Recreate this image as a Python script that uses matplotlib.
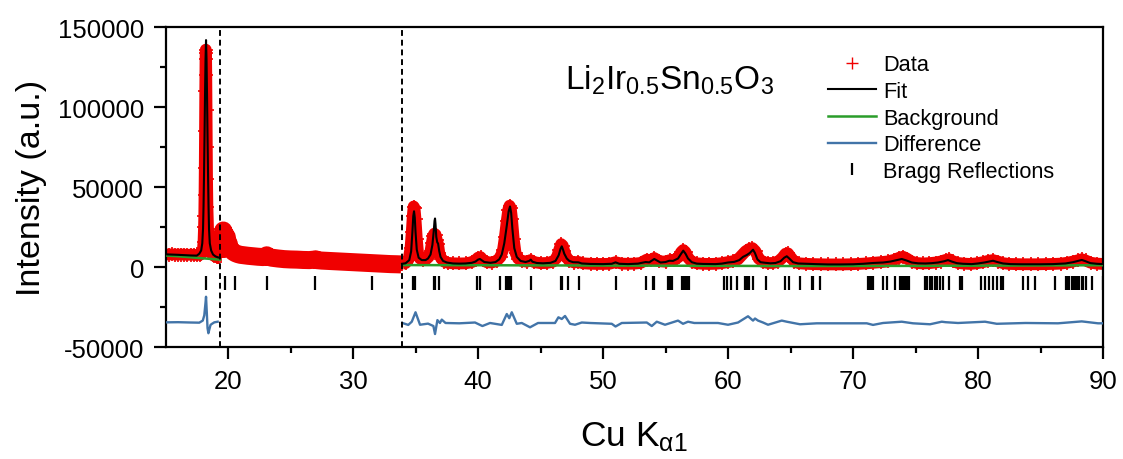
"""Rietveld refinement plot for Li2Ir0.5Sn0.5O3 (Cu K-alpha1)."""

import numpy as np
import matplotlib
matplotlib.use('Agg')
import matplotlib.pyplot as plt
from matplotlib.lines import Line2D
from matplotlib.ticker import FixedLocator

# --- observed data, region 1 (15 - 19.4 deg) ---
obs1X = [15.0, 15.25, 15.5, 15.75, 16.0, 16.25, 16.5, 16.75, 17.0, 17.25, 17.5,
         17.75, 17.85, 17.95, 18.0, 18.04, 18.08, 18.1, 18.12, 18.14, 18.16,
         18.18, 18.2, 18.22, 18.24, 18.26, 18.28, 18.3, 18.32, 18.35, 18.4,
         18.45, 18.5, 18.6, 18.7, 18.8, 18.9, 19.0, 19.1, 19.2, 19.3]
obs1Y = [8100, 8000, 8100, 8000, 7900, 8000, 7900, 7800, 7900, 7800, 7700,
         7800, 8200, 9500, 12000, 16000, 25000, 32000, 45000, 62000, 85000,
         110000, 130000, 136000, 134000, 120000, 98000, 75000, 55000, 38000, 24000,
         16000, 12000, 9500, 8300, 7600, 7100, 6800, 6500, 6300, 6200]

# --- observed data, region 2 (19.4 - 33.9 deg, not refined) ---
obs2X = [19.4, 19.5, 19.56, 19.62, 19.68, 19.74, 19.8, 19.9, 19.96, 20.05,
         20.15, 20.3, 20.45, 20.6, 20.8, 21.0, 21.3, 21.6, 22.0, 22.4, 22.8,
         23.0, 23.1, 23.2, 23.5, 24.0, 24.5, 25.0, 25.5, 26.0, 26.5, 26.9,
         27.0, 27.1, 27.5, 28.0, 28.5, 29.0, 29.5, 30.0, 30.5, 31.0, 31.5,
         32.0, 32.5, 33.0, 33.5, 33.85]
obs2Y = [7000, 14000, 20000, 23000, 18000, 21000, 16000, 19000, 14000, 15000,
         11500, 10500, 9500, 8800, 8200, 7800, 7500, 7200, 6900, 6600, 6400,
         6900, 7500, 6600, 6000, 5500, 5100, 4900, 4800, 4600, 4500, 4800,
         5000, 4500, 4200, 4000, 3800, 3600, 3400, 3200, 3000, 2800, 2600,
         2400, 2200, 2000, 1900, 1800]

# --- observed data, region 3 (33.9 - 90 deg) ---
obs3X = [33.95, 34.2, 34.45, 34.6, 34.7, 34.78, 34.85, 34.92, 35.0, 35.1, 35.2,
         35.35, 35.6, 35.85, 36.05, 36.2, 36.3, 36.4, 36.5, 36.6, 36.7, 36.8,
         36.9, 37.05, 37.3, 37.6, 38.0, 38.5, 39.0, 39.5, 39.8, 40.0, 40.2,
         40.4, 40.7, 41.1, 41.5, 41.8, 42.0, 42.15, 42.3, 42.42, 42.52, 42.62,
         42.72, 42.85, 43.0, 43.2, 43.5, 43.9, 44.2, 44.5, 45.0, 45.5, 46.0,
         46.3, 46.5, 46.65, 46.78, 46.9, 47.05, 47.3, 47.7, 48.0, 48.4, 49.0,
         49.5, 50.0, 50.5, 51.0, 51.5, 52.0, 52.5, 53.0, 53.5, 53.8, 54.1,
         54.5, 55.0, 55.35, 55.7, 56.05, 56.25, 56.42, 56.6, 56.8, 57.1, 57.5,
         58.0, 58.5, 59.0, 59.5, 60.0, 60.4, 60.8, 61.1, 61.4, 61.7, 61.95,
         62.2, 62.45, 62.8, 63.2, 63.6, 64.0, 64.35, 64.6, 64.8, 65.0, 65.3,
         65.7, 66.2, 66.8, 67.4, 68.0, 68.6, 69.2, 69.8, 70.4, 71.0, 71.6,
         72.2, 72.8, 73.3, 73.7, 74.0, 74.3, 74.7, 75.1, 75.6, 76.1, 76.6,
         77.0, 77.4, 77.7, 78.0, 78.4, 78.9, 79.4, 79.9, 80.4, 80.8, 81.2,
         81.6, 82.0, 82.5, 83.0, 83.6, 84.2, 84.8, 85.4, 86.0, 86.6, 87.1,
         87.6, 88.0, 88.3, 88.6, 89.0, 89.5, 90.0]
obs3Y = [2200, 2600, 5000, 12000, 22000, 32000, 38000, 37000, 30000, 18000, 9000,
         5500, 4500, 5000, 6500, 10000, 15000, 19500, 21000, 20500, 17000, 14500,
         9000, 5500, 3500, 2800, 2500, 2400, 2500, 3200, 4500, 6000, 6400,
         4500, 3200, 3000, 4000, 6500, 11000, 19000, 29000, 36000, 38500, 37000,
         30000, 18000, 9000, 5500, 4000, 3500, 4500, 3200, 2600, 2700, 3500,
         6000, 11000, 14500, 13500, 10000, 6500, 4000, 3000, 3400, 2500, 2200,
         2100, 2100, 2200, 3200, 2300, 2200, 2300, 2700, 4800, 4500, 5800,
         3800, 3500, 4500, 4500, 6500, 9500, 10800, 9500, 6000, 3500, 2500,
         2200, 2100, 2200, 2600, 3300, 3800, 5000, 7500, 10000, 11500, 12000,
         10000, 5500, 3300, 2700, 2700, 3500, 6000, 8500, 8700, 6500, 3500,
         2500, 2200, 2000, 1900, 1800, 1800, 1800, 1900, 2100, 2400, 2800,
         3200, 3700, 4700, 6000, 6600, 5500, 3500, 2700, 2400, 2600, 3000,
         3600, 4600, 5000, 3800, 2700, 2300, 2100, 2500, 3200, 4000, 4500,
         3600, 2600, 2100, 2000, 1900, 1900, 1900, 2000, 2100, 2300, 2800,
         3600, 4400, 5000, 4300, 2900, 2300, 2100]

# --- calculated profile (fit) ---
fit1X = [15.0, 16.0, 17.0, 17.5, 17.7, 17.85, 17.94, 18.0, 18.04, 18.08, 18.12,
         18.16, 18.2, 18.24, 18.28, 18.32, 18.36, 18.4, 18.44, 18.48, 18.54,
         18.65, 18.8, 19.0, 19.2, 19.36]
fit1Y = [8100, 7800, 7400, 7300, 8500, 10500, 15000, 24000, 38000, 58000, 82000,
         108000, 130000, 142000, 130000, 108000, 82000, 58000, 38000, 24000, 15000,
         10500, 8000, 6800, 6200, 6000]

fit3X = [33.92, 34.2, 34.5, 34.65, 34.75, 34.82, 34.88, 34.94, 35.0, 35.1, 35.25,
         35.5, 35.8, 36.0, 36.2, 36.35, 36.45, 36.52, 36.56, 36.6, 36.66, 36.74,
         36.8, 36.9, 37.0, 37.2, 37.5, 38.0, 38.5, 39.0, 39.5, 39.8, 40.0,
         40.15, 40.3, 40.5, 41.0, 41.4, 41.7, 41.9, 42.1, 42.3, 42.45, 42.56,
         42.65, 42.75, 42.9, 43.1, 43.4, 43.8, 44.1, 44.22, 44.35, 44.7, 45.2,
         45.8, 46.2, 46.45, 46.6, 46.7, 46.8, 46.9, 47.0, 47.1, 47.3, 47.6,
         48.03, 48.3, 49.0, 50.0, 50.7, 51.0, 51.3, 52.0, 52.8, 53.4, 53.7,
         54.1, 54.3, 54.6, 55.0, 55.3, 55.6, 56.0, 56.25, 56.42, 56.6, 56.8,
         57.1, 57.5, 58.0, 59.0, 59.5, 60.0, 60.5, 60.9, 61.2, 61.5, 61.75,
         62.0, 62.15, 62.35, 62.6, 63.0, 63.4, 63.8, 64.2, 64.5, 64.7, 64.9,
         65.2, 65.6, 66.2, 67.0, 68.0, 69.0, 70.0, 70.8, 71.6, 72.4, 73.0,
         73.5, 73.9, 74.3, 74.7, 75.2, 75.8, 76.3, 76.8, 77.3, 77.6, 77.9,
         78.3, 78.8, 79.5, 80.0, 80.5, 81.0, 81.2, 81.5, 82.0, 82.6, 83.5,
         85.0, 86.0, 87.0, 87.6, 88.0, 88.3, 88.6, 89.0, 89.5, 90.0]
fit3Y = [2200, 2500, 4500, 10000, 22000, 32000, 35000, 31000, 22000, 11000, 6000,
         4500, 4500, 5500, 8000, 14000, 22000, 29000, 30500, 27000, 19000, 15500,
         15000, 10000, 6500, 4000, 3000, 2400, 2300, 2400, 2800, 3600, 4800,
         5200, 4400, 3300, 2800, 3300, 5000, 8000, 15000, 26000, 35000, 38000,
         34000, 24000, 12000, 6500, 4000, 3300, 4000, 4800, 3500, 2700, 2500,
         2800, 4000, 7500, 11500, 13100, 11000, 8500, 7000, 5500, 4000, 3200,
         3100, 2400, 2100, 2000, 2200, 3100, 2200, 2000, 2300, 3300, 3100,
         5200, 4300, 3000, 3300, 4100, 4000, 5500, 8500, 10400, 8500, 5500,
         3200, 2300, 2100, 2000, 2300, 3000, 3400, 4500, 6500, 7700, 9000,
         11000, 9000, 5000, 3200, 2800, 2500, 2700, 3800, 6000, 6900, 5500,
         3200, 2400, 2200, 2000, 1800, 1800, 1900, 2200, 2700, 3000, 3600,
         4500, 5200, 4200, 3000, 2500, 2400, 2600, 3000, 3800, 4500, 3600,
         2600, 2200, 2000, 2400, 3000, 3800, 4100, 3400, 2400, 2000, 1900,
         1900, 2000, 2400, 3200, 4000, 4600, 3800, 2600, 2200, 2000]

# --- background ---
bg1X = [15.0, 16.0, 17.0, 18.0, 19.0, 19.36]
bg1Y = [7400, 6900, 6300, 5600, 5000, 4800]
bg3X = [33.92, 45.0, 55.0, 65.0, 75.0, 90.0]
bg3Y = [1400, 1200, 1000, 800, 900, 1300]

# --- difference curve (offset) ---
diff1X = [15.0, 16.0, 17.0, 17.7, 17.98, 18.1, 18.2, 18.24, 18.3, 18.36, 18.43,
          18.5, 18.6, 18.7, 18.9, 19.17]
diff1Y = [-34400, -34300, -34500, -34600, -33300, -30000, -22000, -18400, -28000,
          -38000, -41200, -39000, -36000, -35400, -34400, -34000]
diff3X = [33.95, 34.42, 34.7, 35.0, 35.36, 36.0, 36.43, 36.56, 36.75, 36.95, 37.1,
          37.4, 38.5, 39.76, 40.35, 40.96, 41.9, 42.3, 42.5, 42.7, 43.1, 43.5,
          44.16, 44.8, 46.16, 46.43, 46.7, 46.96, 47.36, 47.76, 48.3, 48.96,
          50.7, 51.0, 51.5, 53.5, 53.9, 54.3, 54.96, 56.0, 56.4, 56.8, 57.3,
          59.2, 60.0, 60.8, 61.6, 62.0, 62.16, 62.4, 62.8, 63.2, 64.3, 64.7,
          65.76, 67.1, 71.1, 71.6, 72.4, 73.9, 74.8, 76.16, 77.1, 77.4, 78.4,
          80.56, 81.5, 83.8, 86.4, 88.3, 89.6, 90.0]
diff3Y = [-34800, -36000, -34000, -28100, -35900, -35200, -36700, -41700, -33000,
          -34800, -32700, -34800, -35000, -34500, -36700, -34800, -36000, -29200,
          -31800, -28100, -35300, -34800, -37500, -34800, -34800, -31250, -32300,
          -30400, -35300, -35900, -34500, -34800, -35300, -37000, -34800, -34500,
          -36700, -34000, -35900, -33300, -35300, -34000, -34800, -34800, -35900,
          -34500, -30600, -33300, -32000, -33300, -34500, -35900, -33300, -34000,
          -35600, -35000, -35000, -36000, -34800, -34000, -35000, -35600, -34000,
          -34300, -34800, -34000, -35300, -34800, -35000, -33800, -35000, -35000]

# --- Bragg reflection positions ---
braggPos = [18.21, 19.72, 20.55, 23.09, 26.95, 31.49, 34.83, 34.96, 36.45, 36.58,
            36.88, 39.95, 40.12, 41.76, 42.23, 42.37, 42.5, 42.62, 44.25, 46.6,
            46.7, 47.2, 48.05, 51.02, 53.42, 54.03, 54.1, 55.2, 55.32, 55.52,
            56.32, 56.46, 56.6, 56.74, 56.9, 59.7, 59.9, 60.26, 60.7, 61.38,
            61.5, 61.64, 62.02, 63.04, 64.58, 64.84, 65.72, 66.7, 66.82, 67.36,
            71.22, 71.3, 71.36, 71.5, 71.62, 72.42, 72.72, 73.36, 73.72, 73.8,
            73.94, 74.06, 74.14, 74.3, 74.48, 75.76, 75.9, 76.16, 76.3, 76.56,
            76.72, 76.96, 77.22, 77.68, 78.56, 78.7, 80.26, 80.56, 80.88, 81.22,
            81.5, 81.84, 82.02, 83.6, 84.02, 84.52, 86.12, 87.04, 87.18, 87.3,
            87.5, 87.7, 87.78, 87.94, 88.1, 88.3, 88.42, 88.62, 89.1, 89.96]

excluded = [19.38, 33.9]  # limits of the excluded region
braggTick = (-5200, -14000)

plt.rcParams['font.family'] = 'Liberation Sans'
plt.rcParams['mathtext.fontset'] = 'custom'
plt.rcParams['mathtext.rm'] = 'Liberation Sans'
plt.rcParams['mathtext.it'] = 'Liberation Sans:italic'
plt.rcParams['mathtext.bf'] = 'Liberation Sans:bold'
plt.rcParams['axes.unicode_minus'] = False

red, green, blue = '#f00000', '#2a9d2a', '#4274a8'

fig = plt.figure(figsize=(11.23, 4.6), dpi=100)
ax = fig.add_axes([0.1474, 0.2428, 0.8348, 0.6957])

# the dense '+' markers of the scan merge into a solid band: draw the
# band as a wide stroke through the observed points, markers on top
mk = dict(ls='none', marker='+', ms=10, mew=1.2, color=red, zorder=2)
for x, y, w in ((obs1X, obs1Y, 8.5), (obs2X, obs2Y, 13), (obs3X, obs3Y, 8.5)):
    ax.plot(x, y, color=red, lw=w, solid_joinstyle='round',
            solid_capstyle='butt', zorder=2)
    ax.plot(x, y, **mk)

for x, y in ((fit1X, fit1Y), (fit3X, fit3Y)):
    ax.plot(x, y, color='black', lw=1.5, zorder=4)
for x, y in ((bg1X, bg1Y), (bg3X, bg3Y)):
    ax.plot(x, y, color=green, lw=1.8, zorder=3)
for x, y in ((diff1X, diff1Y), (diff3X, diff3Y)):
    ax.plot(x, y, color=blue, lw=1.7, zorder=3)

ax.vlines(braggPos, braggTick[1], braggTick[0], color='black', lw=1.6, zorder=3)

for xv in excluded:
    ax.axvline(xv, color='black', lw=1.4, ls=(0, (3, 2)), zorder=5)

ax.set_xlim(15, 90)
ax.set_ylim(-50000, 150000)
ax.xaxis.set_major_locator(FixedLocator(range(20, 91, 10)))
ax.xaxis.set_minor_locator(FixedLocator(range(25, 90, 10)))
ax.yaxis.set_major_locator(FixedLocator(range(-50000, 150001, 50000)))
ax.yaxis.set_minor_locator(FixedLocator(range(-25000, 150000, 50000)))
ax.tick_params(which='both', direction='out', width=1.6, labelsize=18.5,
               top=False, right=False)
ax.tick_params(which='major', length=8.5, pad=7)
ax.tick_params(which='minor', length=4.5)
for s in ax.spines.values():
    s.set_linewidth(1.6)

ax.set_xlabel(r'Cu K$_{\mathregular{\alpha 1}}$', fontsize=25.5, labelpad=19)
ax.set_ylabel('Intensity (a.u.)', fontsize=24.5, labelpad=8)

ax.text(0.426, 0.808, r'Li$_2$Ir$_{0.5}$Sn$_{0.5}$O$_3$', transform=ax.transAxes,
        fontsize=24, va='baseline', ha='left')

handles = [Line2D([], [], ls='none', marker='+', ms=8, mew=1.0, color=red),
           Line2D([], [], color='black', lw=1.5),
           Line2D([], [], color=green, lw=1.8),
           Line2D([], [], color=blue, lw=1.7),
           Line2D([], [], ls='none', marker='|', ms=8, mew=1.6, color='black')]
labels = ['Data', 'Fit', 'Background', 'Difference', 'Bragg Reflections']
fig.legend(handles, labels, loc='upper left', bbox_to_anchor=(0.737, 0.880),
           frameon=False, fontsize=15.7, handlelength=2.2, handletextpad=0.35,
           labelspacing=0.26, borderpad=0, borderaxespad=0)

fig.savefig('out.png', dpi=100)
